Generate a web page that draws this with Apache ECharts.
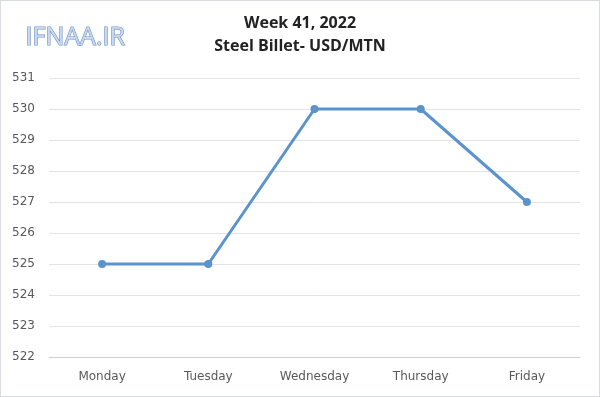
<!DOCTYPE html>
<html>
<head>
<meta charset="utf-8">
<script src="https://cdn.jsdelivr.net/npm/echarts@6/dist/echarts.min.js"></script>
<style>
  html, body { margin: 0; padding: 0; background: #fff; }
  #chart { width: 600px; height: 397px; box-sizing: border-box; border: 1px solid #d9dde2; }
</style>
</head>
<body>
<div id="chart"></div>
<script>
// 周一到周五价格
const days = ['Monday', 'Tuesday', 'Wednesday', 'Thursday', 'Friday']
const prices = [525, 525, 530, 530, 527]
const yMin = 522
const yMax = 531

const chart = echarts.init(document.getElementById('chart'))

const option = {
  animation: false,
  title: {
    text: 'Week 41, 2022\nSteel Billet- USD/MTN',
    left: 'center',
    top: 6,
    textStyle: {
      fontFamily: 'Open Sans',
      fontSize: 16,
      fontWeight: 'bold',
      color: '#222',
      lineHeight: 23
    }
  },
  graphic: [
    {
      type: 'text',
      left: 24,
      top: 24,
      style: {
        text: 'IFNAA.IR',
        fontFamily: 'Open Sans',
        fontSize: 25,
        fill: '#c9d8ee',
        stroke: '#6b8fc7',
        lineWidth: 1.2
      }
    }
  ],
  grid: {
    left: 48,
    right: 19,
    top: 77,
    bottom: 39
  },
  xAxis: {
    type: 'category',
    data: days,
    boundaryGap: true,
    axisLine: { lineStyle: { color: '#d0d0d0', width: 1 } },
    axisTick: { show: false },
    axisLabel: {
      color: '#595959',
      fontFamily: 'DejaVu Sans',
      fontSize: 12,
      margin: 14
    }
  },
  yAxis: {
    type: 'value',
    min: yMin,
    max: yMax,
    interval: 1,
    axisLine: { show: false },
    axisTick: { show: false },
    axisLabel: {
      color: '#595959',
      fontFamily: 'DejaVu Sans',
      fontSize: 12,
      margin: 14
    },
    splitLine: { lineStyle: { color: '#e3e3e3', width: 1 } }
  },
  series: [
    {
      type: 'line',
      data: prices,
      symbol: 'circle',
      symbolSize: 8,
      lineStyle: { color: '#5b93cc', width: 3 },
      itemStyle: { color: '#5b93cc' }
    }
  ]
}

chart.setOption(option)
</script>
</body>
</html>
